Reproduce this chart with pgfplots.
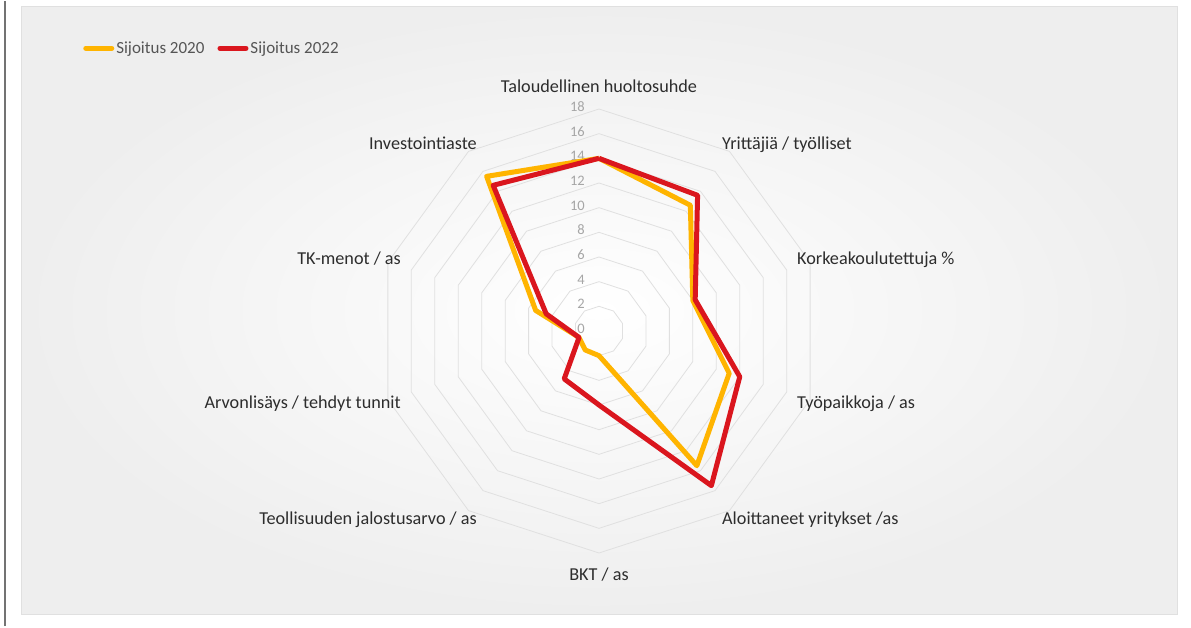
\documentclass[border=0pt]{standalone}
\usepackage{fontspec}
\setmainfont{Carlito}
\usepackage{pgfplots}
\usepgfplotslibrary{polar}
\pgfplotsset{compat=1.18}
\definecolor{y20}{RGB}{255,180,0}
\definecolor{r22}{RGB}{218,22,30}
\definecolor{ringc}{RGB}{224,224,224}
\definecolor{tickc}{RGB}{166,166,166}
\definecolor{labc}{RGB}{45,45,45}
\definecolor{legc}{RGB}{85,85,85}
\definecolor{edgec}{RGB}{238,238,238}
\definecolor{framec}{RGB}{224,224,224}

\begin{document}
\begin{tikzpicture}[x=1pt,y=1pt]
\fill[white] (0,0) rectangle (1191,625);
\draw[line width=2pt, black!55] (5,0) -- (5,625);
\shade[inner color=white, outer color=edgec] (21,12) rectangle (1177,619);
\draw[framec, line width=1pt] (21,12) rectangle (1177,619);

\begin{polaraxis}[
    at={(599pt,295pt)}, anchor=origin,
    scale only axis, width=444pt, height=444pt,
    ymin=0, ymax=18,
    hide axis, clip=false,
    legend columns=2,
    legend style={at={(-0.662,1.137)}, anchor=west, draw=none, fill=none,
      font=\fontsize{17}{20}\selectfont, text=legc, inner sep=0pt,
      /tikz/every even column/.append style={column sep=11pt},
      nodes={inner xsep=2pt}},
    legend image code/.code={\draw[#1, line cap=round] (0pt,0pt) -- (26pt,0pt);},
]
% rings
\pgfplotsinvokeforeach{2,4,...,18}{
  \addplot[ringc, line width=0.8pt, forget plot] coordinates {
    (90,#1) (54,#1) (18,#1) (-18,#1) (-54,#1) (-90,#1)
    (-126,#1) (-162,#1) (-198,#1) (-234,#1) (90,#1)};
}
\pgfplotsinvokeforeach{0,2,...,18}{
  \node[anchor=mid east, inner sep=0pt, xshift=-14pt, text=tickc,
    font=\fontsize{14.5}{16}\selectfont] at (axis cs:90,#1) {#1};
}
% Sijoitus 2020
\addplot[y20, line width=5pt, line join=round] coordinates {
  (90,14) (54,12.6) (18,8.0) (-18,11.1) (-54,13.5) (-90,2.0)
  (-126,1.9) (-162,1.7) (-198,5.4) (-234,15.5) (90,14)};
\addlegendentry{Sijoitus 2020}
% Sijoitus 2022
\addplot[r22, line width=5pt, line join=round] coordinates {
  (90,14) (54,13.6) (18,8.2) (-18,12.0) (-54,15.5) (-90,6.0)
  (-126,4.8) (-162,1.7) (-198,4.5) (-234,14.6) (90,14)};
\addlegendentry{Sijoitus 2022}
\end{polaraxis}

\begin{scope}[every node/.style={inner sep=0pt, text=labc, font=\fontsize{18.2}{20}\selectfont}]
\node[anchor=mid] at (599,536) {Taloudellinen huoltosuhde};
\node[anchor=mid west] at (722,479) {Yrittäjiä / työlliset};
\node[anchor=mid west] at (797,364) {Korkeakoulutettuja \%};
\node[anchor=mid west] at (797,220) {Työpaikkoja / as};
\node[anchor=mid west] at (722,104) {Aloittaneet yritykset /as};
\node[anchor=mid] at (599,48) {BKT / as};
\node[anchor=mid east] at (477,104) {Teollisuuden jalostusarvo / as};
\node[anchor=mid east] at (401,220) {Arvonlisäys / tehdyt tunnit};
\node[anchor=mid east] at (401,364) {TK-menot / as};
\node[anchor=mid east] at (477,479) {Investointiaste};
\end{scope}
\end{tikzpicture}
\end{document}
